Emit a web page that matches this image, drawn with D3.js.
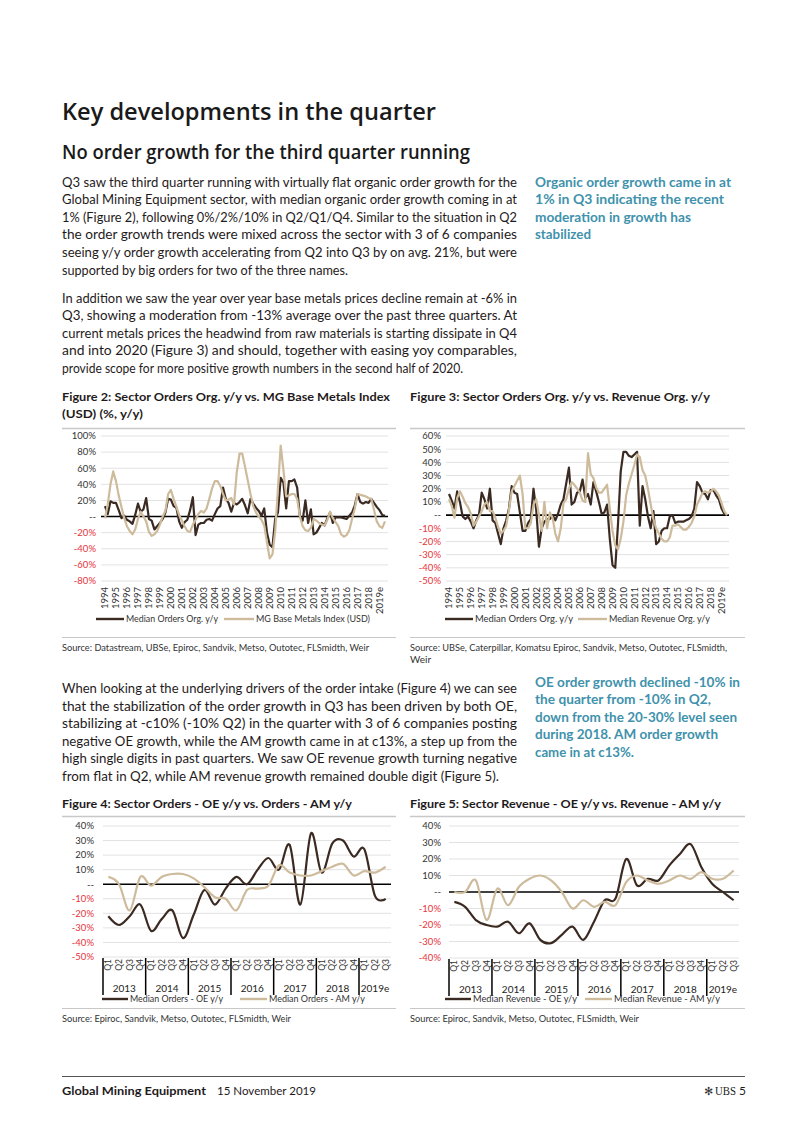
<!DOCTYPE html>
<html><head><meta charset="utf-8">
<script src="https://cdn.jsdelivr.net/npm/d3@7"></script>
<style>body{margin:0;background:#fff}svg{display:block}</style>
</head><body>
<svg id="page" width="802" height="1133"></svg>
<script>
// ---------------- DATA ----------------
const yearLabels = ["1994","1995","1996","1997","1998","1999","2000","2001","2002","2003","2004","2005","2006","2007","2008","2009","2010","2011","2012","2013","2014","2015","2016","2017","2018","2019e"];

// Figure 2 (quarterly, 1994Q1 - 2019Q3), % y/y
const fig2Orders = [13,3,19,17,17,8,-2,1,-4,-6,-9,2,16,6,9,23,-3,-5,-16,-12,-8,-3,5,22,21,13,11,-6,-14,-7,-4,8,24,-23,-10,-8,-8,-4,-3,-5,3,10,13,36,22,17,6,17,15,18,22,14,4,22,16,11,7,1,10,-20,-35,-38,-3,5,48,42,10,44,44,46,36,0,-5,20,-8,9,-22,-20,-14,-8,-11,-2,5,-8,-1,-1,-1,-2,-3,1,5,14,28,18,16,18,17,22,17,12,8,2,1];
const fig2Metals = [-2,15,40,56,44,26,12,-2,-12,-18,-22,-16,-3,6,0,-6,-19,-24,-22,-18,-10,0,7,28,33,22,12,2,-5,-12,-18,-19,-10,-4,3,7,5,10,22,35,44,44,38,28,20,21,23,15,55,78,78,62,45,28,13,5,0,-4,-11,-32,-52,-47,-18,35,88,58,25,26,28,28,22,0,-12,-17,-18,-14,-3,-5,-8,-10,-11,-4,6,-2,-7,-12,-22,-25,-23,-17,-3,10,28,27,26,25,23,22,8,-6,-12,-14,-6];
const fig2Ticks = [100,80,60,40,20,0,-20,-40,-60,-80];

// Figure 3 (quarterly, 1994Q1 - 2019Q3), % y/y
const fig3Orders = [16,11,5,18,10,-1,-3,-1,-5,-10,-4,0,17,12,5,20,-4,-6,-14,-22,-10,-4,5,22,17,16,2,-12,-12,-6,-3,20,4,-24,-10,-5,-3,-3,0,-4,1,8,12,24,36,8,10,17,18,27,13,16,8,25,18,10,1,2,8,-18,-38,-40,-7,33,48,48,45,44,46,48,-8,22,12,-1,-10,3,-22,-20,-12,-10,-10,-1,0,-6,-5,-5,-5,-4,-3,-1,5,25,22,17,16,12,19,19,15,12,5,1,0];
const fig3Revenue = [12,7,-2,13,18,14,9,6,1,-8,-5,-1,3,8,10,3,3,-2,-9,-14,-12,-8,4,18,22,26,30,16,-10,-10,-6,8,12,0,-12,10,-10,2,-2,-14,-20,-10,9,12,20,25,23,20,17,11,10,47,31,28,21,17,17,20,23,5,-12,-23,-26,-18,-5,15,24,31,38,46,44,34,30,20,8,-3,-10,-14,-18,-20,-20,-17,-8,-8,-7,-9,-11,-11,-9,-6,-1,8,12,17,18,17,18,20,18,15,9,3,0];
const fig3Ticks = [60,50,40,30,20,10,0,-10,-20,-30,-40,-50];

// Figures 4 & 5 (quarterly, 2013Q1 - 2019Q3)
const quarterLabels = ["Q1","Q2","Q3","Q4","Q1","Q2","Q3","Q4","Q1","Q2","Q3","Q4","Q1","Q2","Q3","Q4","Q1","Q2","Q3","Q4","Q1","Q2","Q3","Q4","Q1","Q2","Q3"];
const groupYears = ["2013","2014","2015","2016","2017","2018","2019e"];
const groupSizes = [4,4,4,4,4,4,3];
const fig4OE = [-22,-28,-22,-14,-32,-24,-18,-37,-21,-4,-14,-3,5,0,10,18,10,27,-14,35,8,28,30,19,24,-8,-10];
const fig4AM = [5,0,-18,5,-1,5,7,7,4,-2,-9,-10,-18,-4,-3,-1,13,8,6,6,9,12,14,6,9,8,12];
const fig4Ticks = [40,30,20,10,0,-10,-20,-30,-40,-50];
const fig5OE = [-6,-9,-17,-20,-21,-18,-25,-19,-29,-31,-26,-21,-29,-18,-5,-4,20,4,8,7,16,23,29,15,5,0,-5];
const fig5AM = [0,0,7,-17,2,-8,3,8,10,7,0,-10,-5,-9,-6,-8,6,10,7,5,7,10,8,12,8,8,13];
const fig5Ticks = [40,30,20,10,0,-10,-20,-30,-40];

// ---------------- DRAW ----------------
const DARK = "#3b2a22", LIGHT = "#cdbb9c", TEAL = "#3f92ac", RED = "#e8333d", INK = "#1f1b1c";
const FONT = "Lato, 'Open Sans', sans-serif";
const svg = d3.select("#page");
svg.append("rect").attr("width",802).attr("height",1133).attr("fill","#fff");

function txt(g, x, y, s, o = {}) {
  const t = g.append("text").attr("x", x).attr("y", y).text(s)
    .attr("font-family", o.family || FONT).attr("font-size", o.size || 12)
    .attr("fill", o.fill || INK).attr("font-weight", o.weight || 400)
    .attr("text-anchor", o.anchor || "start");
  if (o.width) t.attr("textLength", o.width).attr("lengthAdjust", "spacingAndGlyphs");
  return t;
}
function hline(x0, x1, y, c, w) {
  svg.append("line").attr("x1", x0).attr("x2", x1).attr("y1", y).attr("y2", y)
    .attr("stroke", c).attr("stroke-width", w);
}

// Headings
txt(svg, 62, 120, "Key developments in the quarter", {size: 24, weight: 600, width: 374, fill: "#1a1a1a", family: "'Open Sans', sans-serif"});
txt(svg, 62, 159, "No order growth for the third quarter running", {size: 19.5, weight: 600, width: 408, fill: "#1a1a1a", family: "'Open Sans', sans-serif"});

// Body paragraphs: [text, width]
const para1 = [
  ["Q3 saw the third quarter running with virtually flat organic order growth for the", 455],
  ["Global Mining Equipment sector, with median organic order growth coming in at", 455],
  ["1% (Figure 2), following 0%/2%/10% in Q2/Q1/Q4. Similar to the situation in Q2", 455],
  ["the order growth trends were mixed across the sector with 3 of 6 companies", 455],
  ["seeing y/y order growth accelerating from Q2 into Q3 by on avg. 21%, but were", 455],
  ["supported by big orders for two of the three names.", 286]
];
const para2 = [
  ["In addition we saw the year over year base metals prices decline remain at -6% in", 455],
  ["Q3, showing a moderation from -13% average over the past three quarters. At", 455],
  ["current metals prices the headwind from raw materials is starting dissipate in Q4", 455],
  ["and into 2020 (Figure 3) and should, together with easing yoy comparables,", 455],
  ["provide scope for more positive growth numbers in the second half of 2020.", 401]
];
const para3 = [
  ["When looking at the underlying drivers of the order intake (Figure 4) we can see", 455],
  ["that the stabilization of the order growth in Q3 has been driven by both OE,", 455],
  ["stabilizing at -c10% (-10% Q2) in the quarter with 3 of 6 companies posting", 455],
  ["negative OE growth, while the AM growth came in at c13%, a step up from the", 455],
  ["high single digits in past quarters. We saw OE revenue growth turning negative", 455],
  ["from flat in Q2, while AM revenue growth remained double digit (Figure 5).", 437]
];
function para(lines, y0) {
  lines.forEach((l, i) => txt(svg, 62, y0 + i * 17.6, l[0], {size: 12.8, width: l[1]}));
}
para(para1, 186.5); para(para2, 302.5); para(para3, 693);

const side1 = [["Organic order growth came in at",196],["1% in Q3 indicating the recent",189],["moderation in growth has",156],["stabilized",56]];
const side2 = [["OE order growth declined -10% in",205],["the quarter from -10% in Q2,",176],["down from the 20-30% level seen",202],["during 2018. AM order growth",183],["came in at c13%.",99]];
side1.forEach((l,i) => txt(svg, 535, 186.5 + i*17.5, l[0], {size: 13, weight: 700, fill: TEAL, width: l[1]}));
side2.forEach((l,i) => txt(svg, 535, 686.5 + i*17.5, l[0], {size: 13, weight: 700, fill: TEAL, width: l[1]}));

// Figure titles & sources
txt(svg, 62, 401, "Figure 2: Sector Orders Org. y/y vs. MG Base Metals Index", {size: 12, weight: 700, width: 328});
txt(svg, 62, 418, "(USD) (%, y/y)", {size: 12, weight: 700, width: 81});
txt(svg, 410, 401, "Figure 3: Sector Orders Org. y/y vs. Revenue Org. y/y", {size: 12, weight: 700, width: 300});
txt(svg, 62, 808, "Figure 4: Sector Orders - OE y/y vs. Orders - AM y/y", {size: 12, weight: 700, width: 290});
txt(svg, 410, 808, "Figure 5: Sector Revenue - OE y/y vs. Revenue - AM y/y", {size: 12, weight: 700, width: 311});
hline(62, 396, 428.5, "#c8c8c8", 1.5); hline(410, 745, 428.5, "#c8c8c8", 1.5);
hline(62, 396, 816.5, "#c8c8c8", 1.5); hline(410, 745, 816.5, "#c8c8c8", 1.5);
hline(62, 396, 637.5, "#c8c8c8", 1); hline(410, 745, 637.5, "#c8c8c8", 1);
hline(62, 396, 1008.5, "#c8c8c8", 1); hline(410, 745, 1008.5, "#c8c8c8", 1);
txt(svg, 62, 650.5, "Source:  Datastream, UBSe, Epiroc, Sandvik, Metso, Outotec, FLSmidth, Weir", {size: 10, fill: "#333", width: 307});
txt(svg, 410, 650.5, "Source:  UBSe, Caterpillar, Komatsu Epiroc, Sandvik, Metso, Outotec, FLSmidth,", {size: 10, fill: "#333", width: 317});
txt(svg, 410, 662.5, "Weir", {size: 10, fill: "#333"});
txt(svg, 62, 1022, "Source:  Epiroc, Sandvik, Metso, Outotec, FLSmidth, Weir", {size: 10, fill: "#333", width: 229});
txt(svg, 410, 1022, "Source:  Epiroc, Sandvik, Metso, Outotec, FLSmidth, Weir", {size: 10, fill: "#333", width: 229});

// Footer
hline(62, 745, 1076.5, "#555", 1);
txt(svg, 62, 1095, "Global Mining Equipment", {size: 12, weight: 700, width: 144});
txt(svg, 217, 1095, "15 November 2019", {size: 12, width: 99});
txt(svg, 704, 1095, "\u273B", {size: 11, family: "DejaVu Sans", fill: "#333"});
txt(svg, 715, 1095, "UBS", {size: 11.5, family: "'Liberation Serif', serif", fill: "#222", width: 21});
txt(svg, 746, 1095, "5", {size: 12, anchor: "end"});

// ---- chart helpers ----
function yAxis(g, y, ticks, labelX, gx0, gx1) {
  ticks.forEach(v => {
    if (v !== 0) g.append("line").attr("x1", gx0).attr("x2", gx1).attr("y1", y(v)).attr("y2", y(v))
      .attr("stroke", "#e2e2e2").attr("stroke-width", 1);
    txt(g, labelX, y(v), v === 0 ? "--" : v + "%", {size: 9.5, anchor: "end", fill: v < 0 ? RED : "#333"})
      .attr("dy", "0.35em");
  });
  g.append("line").attr("x1", gx0).attr("x2", gx1).attr("y1", y(0)).attr("y2", y(0))
    .attr("stroke", "#000").attr("stroke-width", 1.6);
}
function series(g, data, x, y, color, curve) {
  g.append("path").datum(data)
    .attr("d", d3.line().x((d, i) => x(i)).y(d => y(d)).curve(curve))
    .attr("fill", "none").attr("stroke", color).attr("stroke-width", 2.2)
    .attr("stroke-linejoin", "round");
}
function legend(g, items, y) {
  items.forEach(it => {
    g.append("line").attr("x1", it.x0).attr("x2", it.x1).attr("y1", y).attr("y2", y)
      .attr("stroke", it.c).attr("stroke-width", 2.4);
    txt(g, it.x1 + 2, y, it.label, {size: 9.5, fill: "#333", width: it.w}).attr("dy", "0.35em");
  });
}

function longChart(o) {
  const g = svg.append("g");
  const y = d3.scaleLinear().domain([o.ticks[o.ticks.length - 1], o.ticks[0]]).range([o.yb, o.yt]);
  const x = d3.scaleLinear().domain([0, o.a.length - 1]).range([o.x0, o.x1]);
  yAxis(g, y, o.ticks, o.labelX, o.gx0, o.gx1);
  series(g, o.a, x, y, DARK, d3.curveLinear);
  series(g, o.b, x, y, LIGHT, d3.curveLinear);
  yearLabels.forEach((lab, i) => {
    const xi = x(i * 4);
    txt(g, 0, 0, lab, {size: 9.5, anchor: "end", fill: "#333"})
      .attr("transform", `translate(${xi},${o.yb + 6}) rotate(-90)`).attr("dy", "0.35em");
  });
  legend(g, o.legend, 619);
}

longChart({a: fig2Orders, b: fig2Metals, ticks: fig2Ticks, yt: 436, yb: 581,
  x0: 105, x1: 385, gx0: 101, gx1: 388, labelX: 96,
  legend: [{x0: 96, x1: 124, c: DARK, label: "Median Orders Org. y/y", w: 92},
           {x0: 224, x1: 254, c: LIGHT, label: "MG Base Metals Index (USD)", w: 114}]});
longChart({a: fig3Orders, b: fig3Revenue, ticks: fig3Ticks, yt: 436, yb: 581,
  x0: 449, x1: 727, gx0: 446, gx1: 729, labelX: 441,
  legend: [{x0: 445, x1: 473, c: DARK, label: "Median Orders Org. y/y", w: 98},
           {x0: 578, x1: 607, c: LIGHT, label: "Median Revenue Org. y/y", w: 101}]});

function quarterChart(o) {
  const g = svg.append("g");
  const y = d3.scaleLinear().domain([o.ticks[o.ticks.length - 1], o.ticks[0]]).range([o.yb, o.yt]);
  const x = d3.scaleBand().domain(d3.range(o.a.length)).range([o.r0, o.r1]);
  const xc = i => x(i) + x.bandwidth() / 2;
  yAxis(g, y, o.ticks, o.labelX, o.r0, o.r1);
  series(g, o.a, xc, y, DARK, d3.curveCardinal.tension(0));
  series(g, o.b, xc, y, LIGHT, d3.curveCardinal.tension(0));
  quarterLabels.forEach((q, i) => {
    txt(g, 0, 0, q, {size: 8.5, anchor: "end", fill: "#333"})
      .attr("transform", `translate(${xc(i)},${o.yb + 2}) rotate(-90)`).attr("dy", "0.35em");
  });
  let start = 0;
  groupYears.forEach((yr, k) => {
    const n = groupSizes[k];
    const left = x(start), right = x(start + n - 1) + x.bandwidth();
    g.append("line").attr("x1", left).attr("x2", left).attr("y1", o.yb + 1).attr("y2", o.yb + 38)
      .attr("stroke", "#000").attr("stroke-width", 1.5);
    txt(g, (left + right) / 2, o.yb + 35, yr, {size: 10, anchor: "middle", fill: "#222"});
    start += n;
  });
  legend(g, o.legend, 999);
}

quarterChart({a: fig4OE, b: fig4AM, ticks: fig4Ticks, yt: 826, yb: 957,
  r0: 103, r1: 391, labelX: 94,
  legend: [{x0: 102, x1: 128, c: DARK, label: "Median Orders - OE y/y", w: 93},
           {x0: 240, x1: 267, c: LIGHT, label: "Median Orders - AM y/y", w: 96}]});
quarterChart({a: fig5OE, b: fig5AM, ticks: fig5Ticks, yt: 826, yb: 958,
  r0: 449, r1: 739, labelX: 441,
  legend: [{x0: 445, x1: 471, c: DARK, label: "Median Revenue - OE y/y", w: 104},
           {x0: 585, x1: 612, c: LIGHT, label: "Median Revenue - AM y/y", w: 106}]});
</script>
</body></html>
